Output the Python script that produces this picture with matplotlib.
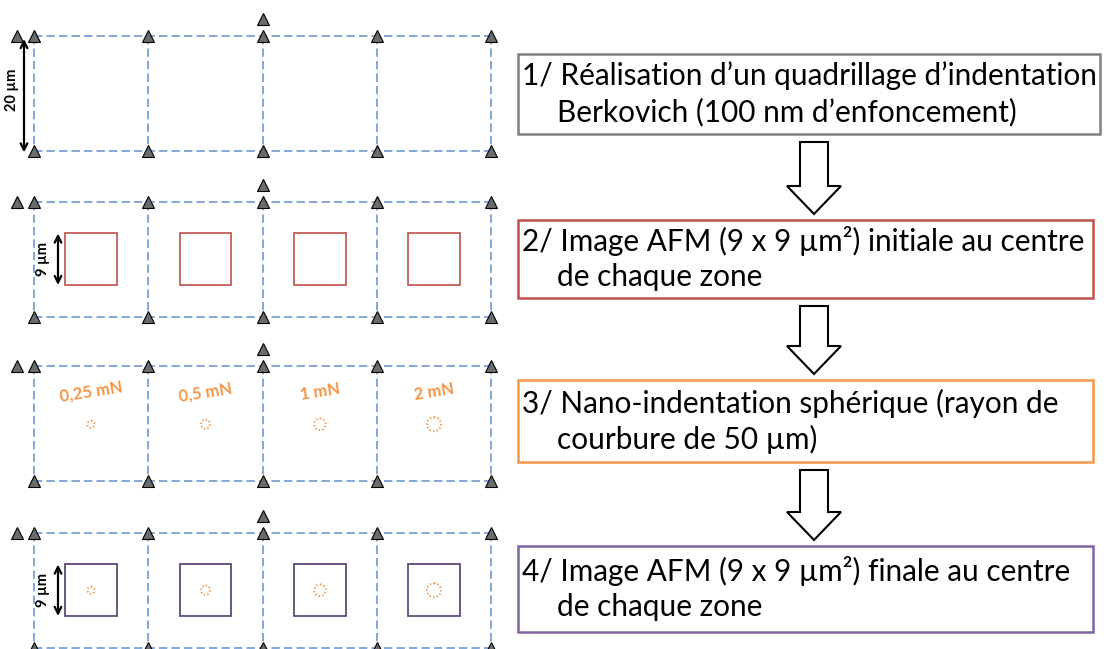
import matplotlib
matplotlib.use("Agg")
import matplotlib.pyplot as plt
from matplotlib.patches import Rectangle, Circle, FancyArrow

plt.rcParams['lines.scale_dashes'] = False

# ---- content ----
step_line1 = ["1/ Réalisation d’un quadrillage d’indentation",
              "2/ Image AFM (9 x 9 µm²) initiale au centre",
              "3/ Nano-indentation sphérique (rayon de",
              "4/ Image AFM (9 x 9 µm²) finale au centre"]
step_line2 = ["Berkovich (100 nm d’enfoncement)",
              "de chaque zone",
              "courbure de 50 µm)",
              "de chaque zone"]
step_colors = ["#808080", "#c0504d", "#f79646", "#8064a2"]
forces = ["0,25 mN", "0,5 mN", "1 mN", "2 mN"]
imprint_radius = [3.5, 4.5, 5.8, 7.0]     # px
grid_label = "20 µm"
afm_label = "9 µm"

# ---- layout (pixel coordinates) ----
W, H = 1107, 649
fig = plt.figure(figsize=(W / 100, H / 100), dpi=100)
ax = fig.add_axes([0, 0, 1, 1])
ax.set_xlim(0, W)
ax.set_ylim(H, 0)
ax.axis('off')

vx = [34, 148, 263, 377, 491]
panel_top = [36, 202, 366, 533]
cell = 114.5
blue = "#5f8fcf"
tri_fc = "#6b6b6b"
orange = "#f79646"
dash = (0, (6, 3))
font = "Lato"

for p, top in enumerate(panel_top):
    bot = top + cell
    for yy in (top, bot):
        ax.plot([vx[0], vx[-1]], [yy, yy], color=blue, lw=1.1, ls=dash, zorder=1)
    for xx in vx:
        ax.plot([xx, xx], [top, bot], color=blue, lw=1.1, ls=dash, zorder=1)
    xs = vx + vx + [17, vx[2]]
    ys = [top] * 5 + [bot] * 5 + [top, top - 17]
    ax.plot(xs, ys, ls='none', marker='^', ms=8.8, mfc=tri_fc, mec='black',
            mew=0.8, zorder=3)
    cy = top + cell / 2
    for i in range(4):
        cx = (vx[i] + vx[i + 1]) / 2
        sq = 0.45 * cell
        if p == 1:
            ax.add_patch(Rectangle((cx - sq / 2, cy - sq / 2), sq, sq, fill=False,
                                   ec="#c0504d", lw=1.2, zorder=2))
        if p == 3:
            ax.add_patch(Rectangle((cx - sq / 2, cy - sq / 2), sq, sq, fill=False,
                                   ec="#604a7b", lw=1.3, zorder=2))
        if p in (2, 3):
            ax.add_patch(Circle((cx, cy + (0 if p == 3 else 1)), imprint_radius[i],
                                fill=False, ec=orange, lw=1.4, ls=(0, (1, 1.6)),
                                zorder=2))
        if p == 2:
            ax.text(cx, top + 26, forces[i], color=orange, fontsize=12,
                    fontweight='bold', rotation=9, ha='center', va='center',
                    family=font)
    if p == 0:
        ax.annotate('', xy=(24, top + 3), xytext=(24, bot + 2),
                    arrowprops=dict(arrowstyle='<->', lw=1.6, color='black',
                                    shrinkA=0, shrinkB=0, mutation_scale=12))
        ax.text(12, cy - 3, grid_label, rotation=90, fontsize=10.5,
                fontweight='bold', ha='center', va='center', family=font)
    if p in (1, 3):
        sq = 0.45 * cell
        ax.annotate('', xy=(58, cy - sq / 2), xytext=(58, cy + sq / 2),
                    arrowprops=dict(arrowstyle='<->', lw=1.6, color='black',
                                    shrinkA=0, shrinkB=0, mutation_scale=12))
        ax.text(43, cy, afm_label, rotation=90, fontsize=10.5,
                fontweight='bold', ha='center', va='center', family=font)

# ---- step boxes ----
box_top = [54, 220, 380, 546]
box_bot = [134, 298, 462, 632]
box_right = [1100, 1093, 1093, 1093]
bx0 = 518
for k in range(4):
    ax.add_patch(Rectangle((bx0, box_top[k]), box_right[k] - bx0,
                           box_bot[k] - box_top[k], fill=False,
                           ec=step_colors[k], lw=1.8, zorder=2))
    ymid = (box_top[k] + box_bot[k]) / 2
    ax.text(bx0 + 4, ymid - 18, step_line1[k], fontsize=21.4, ha='left',
            va='center', family=font, color='black')
    ax.text(bx0 + 39, ymid + 18, step_line2[k], fontsize=21.4, ha='left',
            va='center', family=font, color='black')
    if k < 3:
        y0 = box_bot[k] + 8
        y1 = box_top[k + 1] - 6
        ax.add_patch(FancyArrow(814, y0, 0, y1 - y0, width=28, head_width=54,
                                head_length=28, length_includes_head=True,
                                fc='white', ec='black', lw=1.5, zorder=3))

fig.savefig("out.png", dpi=100)
